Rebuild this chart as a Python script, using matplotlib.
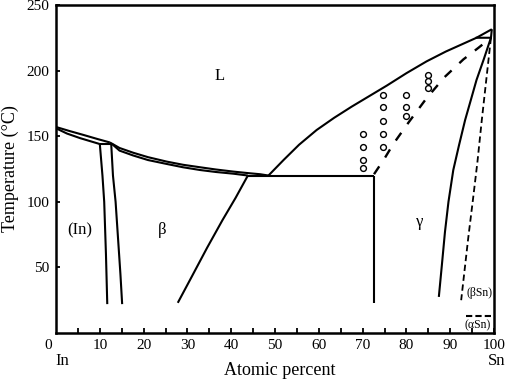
import numpy as np
import matplotlib
matplotlib.use("Agg")
import matplotlib.pyplot as plt

plt.rcParams['font.family'] = ['Liberation Serif', 'DejaVu Serif']

# (In) liquidus and solidus from the In side
in_liq_x = [0, 3, 6.2, 9.5, 12.3]
in_liq_y = [157, 154, 151, 147.8, 145.2]
in_sol_x = [0, 2.5, 5.5, 8, 10]
in_sol_y = [156, 152, 148.5, 146, 144]
perit_x = [10, 12.8]
perit_y = [144, 144]

# beta liquidus (upper) and solidus (lower)
b_liq_x = [12.3, 14.5, 17.6, 21, 25.3, 29, 32.9, 36.5, 40.5, 44, 46.6, 48.5]
b_liq_y = [145.2, 141, 137.4, 134, 130.6, 128.2, 126.3, 124.6, 123, 121.8, 121, 120]
b_sol_x = [12.8, 14.5, 17.6, 21, 25.3, 29, 32.9, 36.5, 40.5, 43.8]
b_sol_y = [144, 139, 135.3, 131.8, 128.8, 126.3, 124.2, 122.7, 121.4, 120]

# solvus lines
in_solv_x = [10, 10.6, 11.0, 11.4, 11.7]
in_solv_y = [144, 120, 100, 60, 22]
b_left_x = [12.6, 13.0, 13.6, 14.2, 14.7, 15.1]
b_left_y = [144, 120, 100, 70, 45, 22]
b_right_x = [43.8, 41, 38, 34.5, 31, 27.8]
b_right_y = [120, 103, 86, 65, 43, 23]

# eutectic line and gamma boundary
eut_x = [43.8, 72.6]
eut_y = [120, 120]
g_left_x = [72.6, 72.6]
g_left_y = [120, 23]

# liquidus on the Sn side
sn_liq_x = [48.5, 52, 55.5, 59.5, 63.5, 67.5, 71.5, 75.5, 80, 84.6, 89, 93, 96, 99.5]
sn_liq_y = [120, 132, 143.5, 154.7, 164, 172.5, 180.5, 188.5, 198, 207, 214.5, 220.5, 225, 231.5]
sn_perit_x = [95.8, 99.3, 99.5]
sn_perit_y = [225, 225, 231.5]

# gamma solidus (dashed)
g_sol_x = [72.6, 75, 77, 80.5, 84.5, 88.7, 93, 96.5, 99.3]
g_sol_y = [121, 133, 144, 160.5, 178.5, 195, 208.5, 217.5, 225]

# gamma / (beta Sn) boundaries
g_sn_x = [99.3, 97.7, 96, 94.7, 93.4, 92, 90.7, 89.6, 88.8, 88.1, 87.4]
g_sn_y = [225, 209, 192.8, 177.5, 162.3, 143, 124.2, 100, 77, 52, 27.5]
sn_sol_x = [99.3, 98.3, 97.2, 96.2, 95.2, 94.1, 92.5]
sn_sol_y = [225, 195, 162, 130, 102, 72, 25]

# alpha/beta Sn transition
asn_x = [93.5, 100]
asn_y = [13.2, 13.2]

# measured points
pt_x = [70, 70, 70, 70, 74.7, 74.7, 74.7, 74.7, 74.7, 79.8, 79.8, 79.8, 85, 85, 85]
pt_y = [151.4, 141.6, 131.9, 126, 181.2, 172.5, 161.6, 151.4, 141.6,
        181.2, 172.5, 165.4, 196.6, 192.1, 186.5]

fig = plt.figure(figsize=(5.07, 3.81), dpi=100)
ax = fig.add_axes([0.1105, 0.126, 0.8639, 0.861])

lw = 1.5
k = 'black'
for xs, ys in [(in_liq_x, in_liq_y), (in_sol_x, in_sol_y), (perit_x, perit_y),
               (b_liq_x, b_liq_y), (b_sol_x, b_sol_y), (in_solv_x, in_solv_y),
               (b_left_x, b_left_y), (b_right_x, b_right_y), (eut_x, eut_y),
               (g_left_x, g_left_y), (sn_liq_x, sn_liq_y), (sn_perit_x, sn_perit_y),
               (g_sn_x, g_sn_y)]:
    ax.plot(xs, ys, color=k, lw=lw, solid_capstyle='butt', solid_joinstyle='round')

ax.plot(g_sol_x, g_sol_y, color=k, lw=1.7, linestyle=(0, (4, 4.5)))
ax.plot(sn_sol_x, sn_sol_y, color=k, lw=1.3, linestyle=(0, (3.5, 2)))
ax.plot(asn_x, asn_y, color=k, lw=1.5, linestyle=(0, (3, 1.5)))

ax.plot(pt_x, pt_y, 'o', mfc='white', mec=k, ms=4.2, mew=1.0, linestyle='none')

ax.set_xlim(0, 100)
ax.set_ylim(0, 250)
ax.set_xticks(range(10, 101, 10))
ax.set_xticks(range(5, 100, 10), minor=True)
ax.set_yticks([50, 100, 150, 200, 250])
ax.tick_params(axis='x', which='both', direction='in', length=3.5, width=1.3,
               labelsize=11, pad=4)
ax.tick_params(axis='y', direction='in', length=3, width=1.3, labelsize=11, pad=5)
for s in ax.spines.values():
    s.set_linewidth(1.8)

ax.set_xlabel('Atomic percent', fontsize=13)
ax.xaxis.set_label_coords(0.51, -0.088)
ax.set_ylabel('Temperature (°C)', fontsize=13)
ax.yaxis.set_label_coords(-0.084, 0.5)

ax.text(-1.8, -9.9, '0', fontsize=11, ha='center', va='center', clip_on=False)
ax.text(1.4, -21.3, 'In', fontsize=12, ha='center', va='center', clip_on=False)
ax.text(100.7, -21.3, 'Sn', fontsize=12, ha='center', va='center', clip_on=False)

ax.text(37.3, 195.9, 'L', fontsize=12, ha='center', va='center')
ax.text(5.5, 78.5, '(In)', fontsize=12, ha='center', va='center')
ax.text(24.3, 78.5, 'β', fontsize=12, ha='center', va='center')
ax.text(83.1, 84.8, 'γ', fontsize=12, ha='center', va='center')
ax.text(96.6, 30.7, '(βSn)', fontsize=8.5, ha='center', va='center')
ax.text(96.2, 6.1, '(αSn)', fontsize=8.5, ha='center', va='center')

fig.savefig('out.png', dpi=100)
